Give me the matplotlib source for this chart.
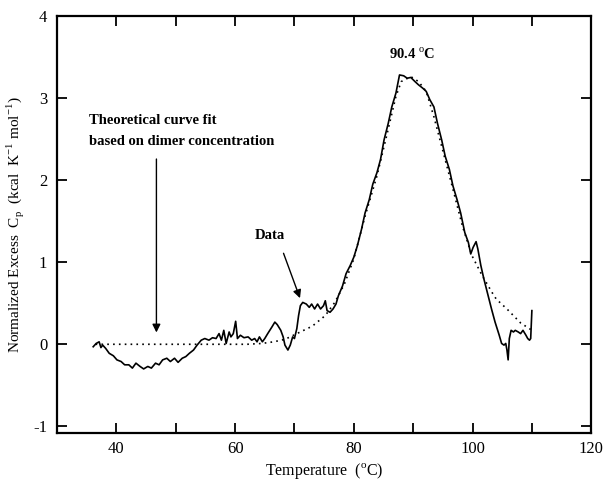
import matplotlib
matplotlib.use("Agg")
from matplotlib import pyplot as plt
from matplotlib.ticker import MultipleLocator
import numpy as np

plt.rcParams['font.family'] = ['Liberation Serif', 'DejaVu Serif']
plt.rcParams['mathtext.fontset'] = 'custom'
plt.rcParams['mathtext.rm'] = 'Liberation Serif'
plt.rcParams['axes.unicode_minus'] = False

temp_data = [36.1, 36.6, 37.1, 37.4, 37.7, 38.2, 38.8, 39.5, 40.1, 40.8, 41.4, 42.1, 42.7,
             43.3, 44.0, 44.6, 45.3, 45.9, 46.6, 47.2, 47.8, 48.5, 49.1, 49.8, 50.4, 51.1,
             51.7, 52.3, 53.0, 53.6, 54.3, 54.9, 55.6, 56.2, 56.8, 57.3, 57.7, 58.1, 58.5,
             59.0, 59.3, 59.7, 60.1, 60.4, 60.9, 61.5, 62.2, 62.8, 63.3, 63.7, 64.1, 64.6,
             65.0, 65.5, 66.2, 66.7, 67.1, 67.7, 68.1, 68.4, 68.9, 69.3, 69.7, 70.0, 70.4,
             70.7, 71.0, 71.4, 72.0, 72.5, 72.9, 73.4, 73.9, 74.4, 74.9, 75.2, 75.5, 76.0,
             76.5, 77.0, 77.4, 78.1, 78.7, 79.4, 80.0, 80.6, 81.3, 81.9, 82.6, 83.2, 83.9,
             84.5, 85.1, 85.8, 86.4, 87.1, 87.7, 88.4, 89.0, 89.6, 90.3, 90.9, 91.6, 92.2,
             92.8, 93.5, 94.1, 94.8, 95.4, 96.1, 96.7, 97.4, 98.0, 98.7, 99.3, 99.7, 100.1,
             100.6, 100.9, 101.4, 101.9, 102.5, 103.2, 103.8, 104.5, 104.9, 105.3, 105.6,
             105.8, 106.0, 106.2, 106.5, 106.9, 107.2, 107.7, 108.1, 108.5, 109.0, 109.3,
             109.6, 109.8, 110.0]
cp_data = [-0.03, 0.01, 0.03, -0.04, -0.01, -0.05, -0.11, -0.14, -0.19, -0.21, -0.25, -0.25,
           -0.29, -0.23, -0.27, -0.30, -0.27, -0.29, -0.23, -0.25, -0.19, -0.17, -0.21, -0.17,
           -0.22, -0.17, -0.15, -0.11, -0.07, -0.01, 0.05, 0.07, 0.05, 0.08, 0.07, 0.13, 0.05,
           0.17, 0.01, 0.15, 0.09, 0.13, 0.28, 0.07, 0.11, 0.08, 0.09, 0.05, 0.07, 0.03, 0.09,
           0.03, 0.07, 0.13, 0.21, 0.27, 0.24, 0.17, 0.09, -0.01, -0.07, -0.01, 0.09, 0.07,
           0.19, 0.35, 0.47, 0.51, 0.49, 0.45, 0.49, 0.43, 0.49, 0.43, 0.47, 0.53, 0.41, 0.39,
           0.43, 0.49, 0.59, 0.71, 0.86, 0.96, 1.06, 1.20, 1.40, 1.60, 1.76, 1.95, 2.09, 2.25,
           2.49, 2.69, 2.89, 3.06, 3.28, 3.27, 3.24, 3.25, 3.20, 3.16, 3.12, 3.08, 2.98, 2.89,
           2.69, 2.49, 2.29, 2.13, 1.93, 1.76, 1.60, 1.36, 1.24, 1.10, 1.18, 1.25, 1.16, 0.96,
           0.80, 0.63, 0.43, 0.27, 0.11, 0.01, -0.01, 0.01, -0.07, -0.19, 0.07, 0.17, 0.15,
           0.17, 0.15, 0.13, 0.17, 0.11, 0.07, 0.05, 0.07, 0.41]

# theoretical fit (dotted)
temp_fit = [36.5, 45.0, 55.0, 62.0, 64.5, 66.5, 68.4, 70.7, 73.0, 75.2, 76.8, 78.4, 80.0,
            81.9, 83.9, 85.5, 87.1, 88.0, 89.6, 90.9, 92.2, 93.5, 95.1, 96.7, 98.3, 99.9,
            101.6, 103.3, 104.0, 105.8, 108.1, 109.8]
cp_fit = [0.0, 0.0, 0.0, 0.0, 0.01, 0.03, 0.06, 0.14, 0.22, 0.35, 0.51, 0.73, 1.04,
          1.56, 2.05, 2.53, 3.02, 3.20, 3.26, 3.20, 3.08, 2.77, 2.33, 1.89, 1.44, 1.08,
          0.84, 0.63, 0.55, 0.43, 0.26, 0.18]

fig = plt.figure(figsize=(6.03, 4.80), dpi=100)
ax = fig.add_axes([0.0945, 0.098, 0.886, 0.869])

ax.plot(temp_fit, cp_fit, color='black', lw=1.2, linestyle=(0, (1, 2.5)))
ax.plot(temp_data, cp_data, color='black', lw=1.2)

ax.set_xlim(30, 120)
ax.set_ylim(-1.08, 4)
ax.xaxis.set_major_locator(MultipleLocator(20))
ax.xaxis.set_minor_locator(MultipleLocator(10))
ax.yaxis.set_major_locator(MultipleLocator(1))
ax.tick_params(which='both', direction='in', top=True, right=True, length=7, width=1.3,
               labelsize=12)
ax.tick_params(axis='x', pad=6)
ax.tick_params(axis='y', pad=7)
for sp in ax.spines.values():
    sp.set_linewidth(1.6)

ax.set_xlabel('Temperature  ($^\\mathrm{o}$C)', fontsize=11.5, labelpad=3)
ax.set_ylabel('Normalized Excess  C$_\\mathrm{p}$  (kcal  K$^{\\mathrm{-1}}$ mol$^{\\mathrm{-1}}$)',
              fontsize=11, labelpad=5)

ax.text(89.9, 3.53, '90.4 $^\\mathrm{o}$C', ha='center', va='center', fontsize=10.5,
        fontweight='bold')
ax.text(35.4, 2.72, 'Theoretical curve fit', ha='left', va='center', fontsize=10.5,
        fontweight='bold')
ax.text(35.4, 2.47, 'based on dimer concentration', ha='left', va='center', fontsize=10.5,
        fontweight='bold')
ax.annotate('', xy=(46.75, 0.11), xytext=(46.75, 2.29),
            arrowprops=dict(arrowstyle='-|>', color='black', lw=1.0, mutation_scale=12))
ax.text(65.8, 1.33, 'Data', ha='center', va='center', fontsize=10.5, fontweight='bold')
ax.annotate('', xy=(71.1, 0.53), xytext=(68.0, 1.14),
            arrowprops=dict(arrowstyle='-|>', color='black', lw=1.0, mutation_scale=12))

fig.savefig('out.png', dpi=100)
